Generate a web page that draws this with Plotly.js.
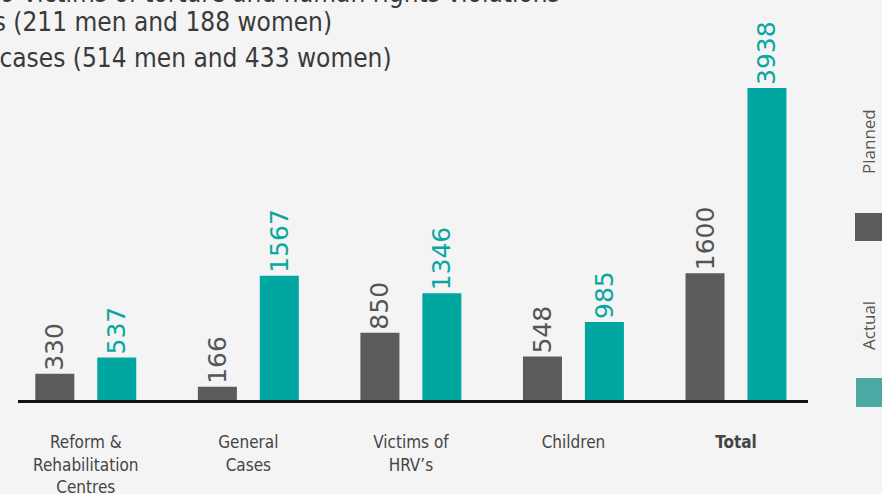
<!DOCTYPE html>
<html>
<head>
<meta charset="utf-8">
<script src="https://cdn.plot.ly/plotly-3.0.1.min.js"></script>
<style>
  html, body { margin: 0; padding: 0; background: #f4f4f4; }
  #chart { width: 882px; height: 494px; }
</style>
</head>
<body>
<div id="chart"></div>
<script>
// ---- data ----
const categories = [
  "Reform &<br>Rehabilitation<br>Centres",
  "General<br>Cases",
  "Victims of<br>HRV’s",
  "Children",
  "<b>Total</b>"
];
const planned = [330, 166, 850, 548, 1600];
const actual  = [537, 1567, 1346, 985, 3938];
const seriesNames = ["Planned", "Actual"];
const headlineLines = [
  "399 victims of torture and human rights violations",
  "399 victims (211 men and 188 women)",
  "947 general cases (514 men and 433 women)"
];

// ---- layout helpers ----
const W = 882, H = 494;
const M = { l: 18, r: 74, t: 10, b: 94 };
const PW = W - M.l - M.r, PH = H - M.t - M.b;
const px = x => (x - M.l) / PW;
const py = y => 1 - (y - M.t) / PH;

const darkGrey = "#5b5b5b";
const teal = "#00a7a1";
const numFont = "DejaVu Sans, sans-serif";
const legFont = "Open Sans, DejaVu Sans, sans-serif";
const condFont = "Liberation Sans Narrow, DejaVu Sans Condensed, Roboto, sans-serif";

const traces = [
  {
    type: "bar", name: seriesNames[0], x: categories, y: planned,
    marker: { color: darkGrey },
    text: planned.map(String), textposition: "outside", textangle: -90,
    constraintext: "none",
    textfont: { family: numFont, size: 25, color: "#555555" },
    cliponaxis: false, hoverinfo: "skip"
  },
  {
    type: "bar", name: seriesNames[1], x: categories, y: actual,
    marker: { color: teal },
    text: actual.map(String), textposition: "outside", textangle: -90,
    constraintext: "none",
    textfont: { family: numFont, size: 25, color: "#0aa6a0" },
    cliponaxis: false, hoverinfo: "skip"
  }
];

const layout = {
  width: W, height: H,
  margin: M,
  paper_bgcolor: "#f4f4f4",
  plot_bgcolor: "rgba(0,0,0,0)",
  showlegend: false,
  barmode: "group",
  bargap: 0.238,
  bargroupgap: 0.37,
  xaxis: {
    type: "category",
    range: [-0.417, 4.443],
    showline: true, linecolor: "#111111", linewidth: 3,
    showgrid: false, zeroline: false,
    ticks: "outside", ticklen: 25, tickcolor: "rgba(0,0,0,0)",
    tickfont: { family: condFont, size: 17, color: "#444444" },
    fixedrange: true
  },
  yaxis: {
    range: [0, 4922],
    visible: false, showgrid: false, zeroline: false,
    fixedrange: true
  },
  annotations: [
    { xref: "paper", yref: "paper", x: px(562), y: py(-7), xanchor: "right", yanchor: "middle",
      text: headlineLines[0], showarrow: false,
      font: { family: condFont, size: 26, color: "#3a3a3a" } },
    { xref: "paper", yref: "paper", x: px(334), y: py(22), xanchor: "right", yanchor: "middle",
      text: headlineLines[1], showarrow: false,
      font: { family: condFont, size: 26, color: "#3a3a3a" } },
    { xref: "paper", yref: "paper", x: px(394), y: py(58), xanchor: "right", yanchor: "middle",
      text: headlineLines[2], showarrow: false,
      font: { family: condFont, size: 26, color: "#3a3a3a" } },
    { xref: "paper", yref: "paper", x: px(868), y: py(142), xanchor: "center", yanchor: "middle",
      text: seriesNames[0], textangle: -90, showarrow: false,
      font: { family: legFont, size: 17, color: "#555555" } },
    { xref: "paper", yref: "paper", x: px(868), y: py(326), xanchor: "center", yanchor: "middle",
      text: seriesNames[1], textangle: -90, showarrow: false,
      font: { family: legFont, size: 17, color: "#555555" } }
  ],
  shapes: [
    { type: "rect", xref: "paper", yref: "paper",
      x0: px(855), x1: px(884), y0: py(241), y1: py(213),
      fillcolor: darkGrey, line: { width: 0 } },
    { type: "rect", xref: "paper", yref: "paper",
      x0: px(856), x1: px(884), y0: py(407), y1: py(378),
      fillcolor: "#4aa9a2", line: { width: 0 } }
  ]
};

Plotly.newPlot("chart", traces, layout, { displayModeBar: false, staticPlot: true });
</script>
</body>
</html>
